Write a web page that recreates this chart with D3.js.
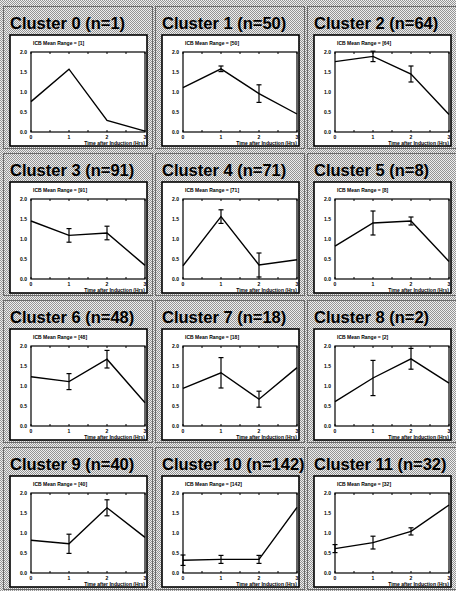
<!DOCTYPE html>
<meta charset="utf-8">
<style>
  body { margin: 0; background: #c4c4c4; }
  .title { font: bold 16.5px "Liberation Sans", Arial, sans-serif; fill: #000; }
  .small { font: bold 5px "Liberation Sans", Arial, sans-serif; fill: #000; }
  .trace { fill: none; stroke: #000; stroke-width: 1.4; }
  .err { stroke: #000; stroke-width: 1.2; }
</style>
<body>
<svg width="456" height="591"></svg>
<script src="https://d3js.org/d3.v7.min.js"></script>
<script>

// cluster sizes, time points and mean profiles
var clusterIds = [0, 1, 2, 3, 4, 5, 6, 7, 8, 9, 10, 11];
var clusterSizes = [1, 50, 64, 91, 71, 8, 48, 18, 2, 40, 142, 32];
var timePoints = [0, 1, 2, 3];
var yTicks = [0, 0.5, 1, 1.5, 2];

var means = [
  [0.76, 1.57, 0.29, 0.02],
  [1.11, 1.58, 0.96, 0.45],
  [1.76, 1.89, 1.45, 0.44],
  [1.45, 1.09, 1.15, 0.34],
  [0.33, 1.56, 0.35, 0.48],
  [0.82, 1.40, 1.45, 0.44],
  [1.23, 1.11, 1.67, 0.58],
  [0.94, 1.33, 0.67, 1.46],
  [0.61, 1.20, 1.68, 1.07],
  [0.82, 0.73, 1.63, 0.89],
  [0.32, 0.34, 0.34, 1.64],
  [0.61, 0.76, 1.04, 1.70]
];
var errors = [
  [0, 0, 0, 0],
  [0, 0.07, 0.22, 0],
  [0, 0.13, 0.20, 0],
  [0, 0.17, 0.17, 0],
  [0, 0.17, 0.30, 0],
  [0, 0.30, 0.10, 0],
  [0, 0.20, 0.22, 0],
  [0, 0.38, 0.20, 0],
  [0, 0.44, 0.26, 0],
  [0, 0.24, 0.20, 0],
  [0.13, 0.10, 0.10, 0],
  [0.10, 0.16, 0.09, 0]
];

var svg = d3.select("svg");

// dithered grey like the scanned original
var defs = svg.append("defs");
var pat = defs.append("pattern")
    .attr("id", "dither")
    .attr("width", 2).attr("height", 2)
    .attr("patternUnits", "userSpaceOnUse");
pat.append("rect").attr("width", 2).attr("height", 2).attr("fill", "#eeeeee");
pat.append("rect").attr("width", 1).attr("height", 1).attr("fill", "#949494");
pat.append("rect").attr("x", 1).attr("y", 1).attr("width", 1).attr("height", 1).attr("fill", "#949494");

svg.append("rect").attr("width", 456).attr("height", 591).attr("fill", "url(#dither)");

var colW = 152, rowH = 147;

var x = d3.scaleLinear().domain([0, 3]).range([31, 145]);
var y = d3.scaleLinear().domain([0, 2]).range([132, 52]);

var line = d3.line()
    .x(function(d) { return x(d[0]); })
    .y(function(d) { return y(d[1]); });

clusterIds.forEach(function(id, i) {
  var col = i % 3, row = Math.floor(i / 3);
  var g = svg.append("g")
      .attr("transform", "translate(" + (col * colW) + "," + (row * rowH) + ")");

  g.append("rect")
      .attr("x", 3.5).attr("y", 6.5)
      .attr("width", 149).attr("height", 142)
      .attr("fill", "none").attr("stroke", "#6a6a6a");

  g.append("text")
      .attr("class", "title")
      .attr("x", 10).attr("y", 29)
      .text("Cluster " + id + " (n=" + clusterSizes[i] + ")");

  g.append("rect")
      .attr("x", 10).attr("y", 35)
      .attr("width", 137).attr("height", 111)
      .attr("fill", "#fff").attr("stroke", "#000").attr("stroke-width", 1.6);

  g.append("text")
      .attr("class", "small")
      .attr("x", 33).attr("y", 45)
      .text("ICB Mean Range = [" + clusterSizes[i] + "]");

  // frame
  g.append("rect")
      .attr("x", x(0)).attr("y", y(2))
      .attr("width", x(3) - x(0)).attr("height", y(0) - y(2))
      .attr("fill", "none").attr("stroke", "#000").attr("stroke-width", 1.2);

  var minor = d3.range(0, 3.01, 0.5);
  g.selectAll(".tb").data(minor).enter().append("line")
      .attr("x1", function(d) { return x(d); }).attr("x2", function(d) { return x(d); })
      .attr("y1", y(0)).attr("y2", y(0) - 2)
      .attr("stroke", "#000");
  g.selectAll(".tt").data(minor).enter().append("line")
      .attr("x1", function(d) { return x(d); }).attr("x2", function(d) { return x(d); })
      .attr("y1", y(2)).attr("y2", y(2) + 2)
      .attr("stroke", "#000");

  g.selectAll(".yl").data(yTicks).enter().append("text")
      .attr("class", "small")
      .attr("x", 27).attr("y", function(d) { return y(d) + 2; })
      .attr("text-anchor", "end")
      .text(function(d) { return d.toFixed(1); });

  g.selectAll(".xl").data(timePoints).enter().append("text")
      .attr("class", "small")
      .attr("x", function(d) { return x(d); }).attr("y", 139)
      .attr("text-anchor", "middle")
      .text(function(d) { return d; });

  g.append("text")
      .attr("class", "small")
      .attr("x", 145).attr("y", 144.5)
      .attr("text-anchor", "end")
      .text("Time after Induction (Hrs)");

  var pts = timePoints.map(function(t, k) { return [t, means[i][k], errors[i][k]]; });

  g.append("path").attr("class", "trace").attr("d", line(pts));

  var eb = g.selectAll(".eb").data(pts.filter(function(d) { return d[2] > 0; }))
      .enter().append("g");
  eb.append("line").attr("class", "err")
      .attr("x1", function(d) { return x(d[0]); }).attr("x2", function(d) { return x(d[0]); })
      .attr("y1", function(d) { return y(d[1] - d[2]); }).attr("y2", function(d) { return y(d[1] + d[2]); });
  [-1, 1].forEach(function(s) {
    eb.append("line").attr("class", "err")
        .attr("x1", function(d) { return x(d[0]) - 2.5; }).attr("x2", function(d) { return x(d[0]) + 2.5; })
        .attr("y1", function(d) { return y(d[1] + s * d[2]); }).attr("y2", function(d) { return y(d[1] + s * d[2]); });
  });
});
</script>
</body>
